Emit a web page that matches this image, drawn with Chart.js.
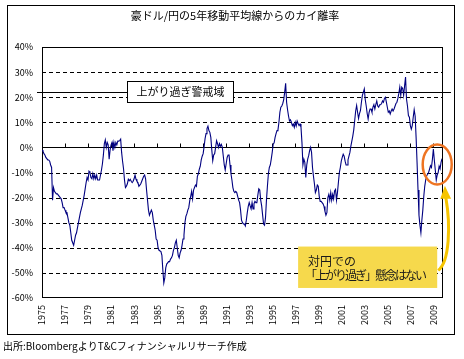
<!DOCTYPE html>
<html>
<head>
<meta charset="utf-8">
<script src="https://cdn.jsdelivr.net/npm/chart.js@4"></script>
<style>
  html, body { margin: 0; padding: 0; background: #fff; }
  #wrap { width: 464px; height: 359px; }
</style>
</head>
<body>
<div id="wrap"><canvas id="chart" width="464" height="359"></canvas></div>
<script>
// --- DATA (monthly from Jan 1975) ---
const yearLabels = ['1975', '1977', '1979', '1981', '1983', '1985', '1987', '1989', '1991',
                    '1993', '1995', '1997', '1999', '2001', '2003', '2005', '2007', '2009'];

const deviation = [
  -1, -1.5, -2.5, -3, -4, -4.5, -5, -5, -5.5, -7, -8, -21,                 // 1975
  -16, -17.5, -18, -18.5, -18.5, -19, -19.5, -20, -20.5, -22, -24, -24,     // 1976
  -25, -26, -26, -28, -30, -31, -34, -37, -38, -39, -37, -35,               // 1977
  -34, -32, -30, -28, -26, -24.5, -23, -21, -19, -16.5, -14, -12,           // 1978
  -13, -9.5, -10, -12, -12.5, -10.5, -12.5, -11, -12.5, -11, -13, -13,      // 1979
  -13, -11, -9, -6.5, -3, 1.5, 3, 0, 2, 1, -4.7, -1,                        // 1980
  1, 2, -1.3, 2, 0, 2, 1, 2.5, 2.5, 2.7, 3.3, -2,                           // 1981
  -5.5, -8.5, -13, -16, -15.5, -14.5, -12.7, -13.3, -12.7, -13.5, -14, -13.5, // 1982
  -12.5, -11, -12.7, -13.5, -14, -15.5, -15, -14.5, -13.5, -12.5, -11.5, -11, // 1983
  -12.5, -17, -21, -25, -27, -26, -25, -26, -29, -31, -33, -36.5,           // 1984
  -37, -40, -41, -41, -41.5, -43, -49, -54, -52, -48, -46.5, -46,           // 1985
  -45.5, -45.5, -44.5, -44, -43, -41, -40, -38, -37, -40, -43, -44,         // 1986
  -42, -41, -39, -36.5, -35, -30, -27.5, -26.5, -25, -24, -21.3, -19.5,     // 1987
  -17.5, -20.5, -17, -16, -15, -15.5, -11.5, -10.5, -8.7, -7.5, -5, -3.5,   // 1988
  -2.5, 0.3, 3.5, 5.5, 7.5, 8.5, 6.7, 6, 4, -1, -5.3, -3,                   // 1989
  -2.5, 0, 2.7, 1.5, 0, 1.5, 0.5, 1.2, 0, -3.5, -7, -9,                     // 1990
  -6.5, -4, -3, -3, -7, -10.5, -13, -16, -17.5, -18, -17.5, -18,            // 1991
  -19.5, -21, -22, -25, -29, -30, -30.5, -30.5, -31.3, -29, -26, -23.5,     // 1992
  -22, -23.3, -24.5, -22, -24.5, -22.5, -21.5, -22, -22, -19, -16.5, -17,   // 1993
  -21, -23.3, -27, -30.5, -31, -28, -21, -15.5, -10.5, -8, -7, -4.7,        // 1994
  -2, 1.3, 1.8, 4, 5.5, 6.7, 7, 10, 14, 16, 16.5, 17.5,                     // 1995
  19, 22, 25.5, 18, 15, 12.5, 10.5, 11, 10, 8.7, 9.3, 8,                    // 1996
  10, 8.5, 10.5, 9.5, 8.7, 9.3, 8, 2, -7, -4.7, -6, -12,                    // 1997
  -7, -4.7, -3.3, -1.3, 0, -2, -8, -11.5, -14.5, -18, -17, -15,             // 1998
  -15.5, -19.5, -21.5, -21.5, -22, -22.5, -23.5, -25.5, -27, -26, -20, -18.7, // 1999
  -21, -18, -21, -18.7, -20.5, -17.3, -16.7, -21, -18, -14, -10, -8,        // 2000
  -5.5, -4, -2.7, -3.5, -5.5, -7, -7, -5, -3.5, -2, 0.5, 2.5,               // 2001
  4.5, 7, 10.7, 14.5, 16.7, 14, 11.5, 13.5, 14.7, 18, 20.7, 22,             // 2002
  23.3, 19, 16.5, 13.5, 11.3, 14, 15.3, 15.3, 14, 16, 17, 15.3,             // 2003
  17, 18.5, 16.5, 16, 17, 17, 17.5, 18.5, 18, 19.5, 20, 18,                 // 2004
  16, 14, 14.5, 13.3, 14.5, 15.3, 14.5, 15.3, 15.3, 17.5, 18, 19.5,         // 2005
  21.5, 24, 20.7, 24, 23.5, 20.7, 24.5, 28, 19.3, 16.5, 12.7, 12,           // 2006
  8.7, 7.3, 8.7, 12, 15, 12.5, 4, -6, -17, -27, -31, -34,                   // 2007
  -29, -25, -19.5, -15.5, -13, -11.3, -10.7, -10, -8.7, -7.3, -8, -4.7,     // 2008
  -0.7, -5, -9, -13, -11, -10, -7.5, -8.5, -6, -4.5                         // 2009
];

const alertLevel = 22;
const alertText = '上がり過ぎ警戒域';
const titleText = '豪ドル/円の5年移動平均線からのカイ離率';
const sourceText = '出所:BloombergよりT&Cフィナンシャルリサーチ作成';
const noteLines = ['対円での', '「上がり過ぎ」懸念はない'];

const JP = '"Noto Sans CJK JP", sans-serif';

// --- DECORATION: grid, borders, callouts ---
const decor = {
  id: 'decor',
  beforeDatasetsDraw(chart) {
    const { ctx, chartArea: a, scales: { x, y } } = chart;
    const L = Math.round(a.left), R = Math.round(a.right);
    const T = Math.round(a.top), B = Math.round(a.bottom);
    ctx.save();
    ctx.strokeStyle = '#000';
    ctx.lineWidth = 1;

    // dashed gridlines
    ctx.setLineDash([4, 3]);
    y.ticks.forEach(t => {
      if (t.value === 0 || t.value === y.max || t.value === y.min) return;
      const py = Math.round(y.getPixelForValue(t.value)) + 0.5;
      ctx.beginPath(); ctx.moveTo(L, py); ctx.lineTo(R, py); ctx.stroke();
    });
    ctx.setLineDash([]);

    // zero line + category ticks on it
    const y0 = Math.round(y.getPixelForValue(0)) + 0.5;
    ctx.beginPath(); ctx.moveTo(L, y0); ctx.lineTo(R, y0); ctx.stroke();
    x.ticks.forEach(t => {
      const px = Math.round(x.getPixelForValue(t.value)) + 0.5;
      ctx.beginPath(); ctx.moveTo(px, y0); ctx.lineTo(px, y0 - 4); ctx.stroke();
    });

    // plot border
    ctx.strokeRect(L + 0.5, T + 0.5, R - L, B - T - 1);

    // alert line (runs past the plot on both sides)
    const ya = Math.round(y.getPixelForValue(alertLevel)) + 0.5;
    ctx.beginPath(); ctx.moveTo(L - 5, ya); ctx.lineTo(R + 9, ya); ctx.stroke();

    // alert label box
    const bx0 = x.getPixelForValue(89), bx1 = x.getPixelForValue(200);
    const by0 = y.getPixelForValue(26.5), by1 = y.getPixelForValue(18);
    ctx.fillStyle = '#fff';
    ctx.fillRect(bx0, by0, bx1 - bx0, by1 - by0);
    ctx.strokeRect(Math.round(bx0) + 0.5, Math.round(by0) + 0.5, Math.round(bx1 - bx0), Math.round(by1 - by0));
    ctx.fillStyle = '#000';
    ctx.font = '11px ' + JP;
    ctx.textAlign = 'center';
    ctx.textBaseline = 'middle';
    ctx.fillText(alertText, (bx0 + bx1) / 2, (by0 + by1) / 2 + 0.5);
    ctx.restore();
  },
  afterDraw(chart) {
    const { ctx, scales: { x, y } } = chart;
    const P = (m, v) => [x.getPixelForValue(m), y.getPixelForValue(v)];
    ctx.save();

    // outer frame
    ctx.strokeStyle = '#000';
    ctx.lineWidth = 1;
    ctx.strokeRect(7.5, 5.5, 447, 329);

    // title and source
    ctx.fillStyle = '#000';
    ctx.textBaseline = 'middle';
    ctx.textAlign = 'center';
    ctx.font = '11px ' + JP;
    ctx.fillText(titleText, 235, 16);
    ctx.textAlign = 'left';
    ctx.font = '10px ' + JP;
    ctx.fillText(sourceText, 3, 346);

    // yellow note box
    const [nx0, ny0] = P(267, -39.5);
    const [nx1, ny1] = P(412, -56);
    ctx.fillStyle = '#F6D94C';
    ctx.fillRect(nx0, ny0, nx1 - nx0, ny1 - ny0);
    ctx.fillStyle = '#1a1a1a';
    ctx.font = '12px ' + JP;
    ctx.fillText(noteLines[0], nx0 + 10, ny0 + 15);
    ctx.letterSpacing = '-2px';
    ctx.fillText(noteLines[1], nx0 + 7, ny0 + 29);
    ctx.letterSpacing = '0px';

    // arrow from the note up to the circled area
    const s = P(413, -49), c1 = P(425, -45.5), c2 = P(426, -31), e = P(421, -20);
    ctx.strokeStyle = '#F6C400';
    ctx.lineWidth = 3;
    ctx.beginPath();
    ctx.moveTo(s[0], s[1]);
    ctx.bezierCurveTo(c1[0], c1[1], c2[0], c2[1], e[0], e[1]);
    ctx.stroke();
    const tip = P(420, -15.3), h1 = P(415.2, -20.5), h2 = P(426.5, -20.5);
    ctx.fillStyle = '#F6C400';
    ctx.beginPath();
    ctx.moveTo(tip[0], tip[1]); ctx.lineTo(h1[0], h1[1]); ctx.lineTo(h2[0], h2[1]);
    ctx.closePath(); ctx.fill();

    // orange ring around the recent readings
    const [ex, ey] = P(412, -6.8);
    ctx.strokeStyle = '#EE7422';
    ctx.lineWidth = 2.5;
    ctx.beginPath();
    ctx.ellipse(ex, ey, 14.5, 20, 0, 0, Math.PI * 2);
    ctx.stroke();
    ctx.restore();
  }
};

// --- CHART ---
new Chart(document.getElementById('chart'), {
  type: 'line',
  data: {
    datasets: [{
      data: deviation.map((v, i) => ({ x: i, y: v })),
      borderColor: '#000080',
      borderWidth: 1.1,
      pointRadius: 0,
      tension: 0,
      fill: false
    }]
  },
  options: {
    responsive: false,
    animation: false,
    layout: { padding: { top: 47, right: 22, left: 0, bottom: 0 } },
    plugins: { legend: { display: false }, tooltip: { enabled: false } },
    scales: {
      x: {
        type: 'linear',
        min: 0,
        max: deviation.length - 1,
        afterFit: s => { s.height = 61; },
        grid: { display: false, drawTicks: false },
        border: { display: false },
        ticks: {
          stepSize: 24,
          includeBounds: false,
          autoSkip: false,
          minRotation: 90,
          maxRotation: 90,
          padding: 7,
          color: '#000',
          font: { family: JP, size: 9 },
          callback: v => yearLabels[v / 24] ?? ''
        }
      },
      y: {
        min: -60,
        max: 40,
        afterFit: s => { s.width = 42; },
        grid: { display: false, drawTicks: false },
        border: { display: false },
        ticks: {
          stepSize: 10,
          padding: 9,
          color: '#000',
          font: { family: JP, size: 9 },
          callback: v => v + '%'
        }
      }
    }
  },
  plugins: [decor]
});
</script>
</body>
</html>
